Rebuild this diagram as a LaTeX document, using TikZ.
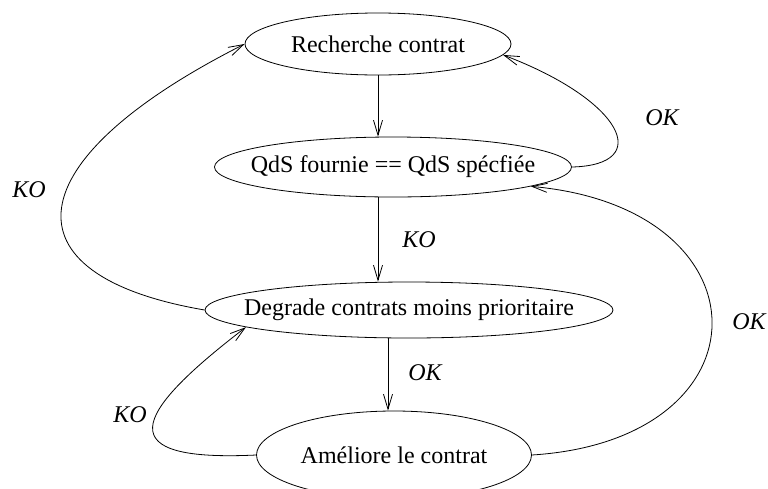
\documentclass[tikz,border=0pt]{standalone}
\usepackage{fontspec}
\setmainfont{Liberation Serif}
\usetikzlibrary{arrows.meta,shapes.geometric}

\begin{document}
\begin{tikzpicture}[x=1pt, y=-1pt, >={Straight Barb[length=15pt,width=9pt]},
    block/.style={ellipse,draw=black,inner xsep=-80pt,inner ysep=-20pt,line width=0.8pt,font=\fontsize{24}{28}\selectfont},
    line/.style={draw=black,line width=0.8pt,->},
    lab/.style={font=\fontsize{24}{28}\selectfont\itshape}]
    \useasboundingbox (0,0) rectangle (768,488);
    \node[block,minimum width=266pt,minimum height=62pt] (rech) at (378,44) {Recherche contrat};
    \node[block,minimum width=357pt,minimum height=60pt] (qds) at (393,167) {QdS fournie == QdS spécfiée};
    \node[block,minimum width=408pt,minimum height=56pt] (deg) at (409,310) {Degrade contrats moins prioritaire};
    \node[block,minimum width=275pt,minimum height=88pt] (ame) at (394,455) {Améliore le contrat};
    \node[lab] (ko1) at (29,190) {KO};
    \node[lab] (ko2) at (419,240) {KO};
    \node[lab] (ok1) at (425,373) {OK};
    \node[lab] (ok2) at (662,118) {OK};
    \node[lab] (ok3) at (749,322) {OK};
    \node[lab] (ko3) at (130,415) {KO};
    \path[line] (rech.south) -- (rech.south |- qds.north);
    \path[line] (rech.south |- qds.south) -- (rech.south |- deg.north);
    \path[line] ([xshift=-6pt]ame.north |- deg.south) -- ([xshift=-6pt]ame.north);
    \path[line] (deg.west) .. controls (0,275) and (15,160) .. (rech.west);
    \path[line] (qds.east) .. controls (655,165) and (622,100) .. (rech.-5);
    \path[line] (ame.east) .. controls (772,440) and (772,208) .. (qds.-8);
    \path[line] (ame.west) .. controls (110,462) and (130,416) .. (deg.186);
\end{tikzpicture}
\end{document}
